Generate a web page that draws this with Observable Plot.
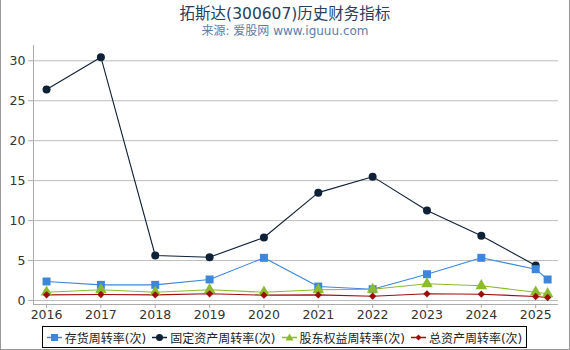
<!DOCTYPE html>
<html><head><meta charset="utf-8">
<script src="https://cdn.jsdelivr.net/npm/d3@7"></script>
<script src="https://cdn.jsdelivr.net/npm/@observablehq/plot@0.6"></script>
<style>
body{margin:0;background:#fff;font-family:"DejaVu Sans","Noto Sans CJK SC",sans-serif;}
#wrap{position:relative;width:570px;height:350px;overflow:hidden;}
#border{position:absolute;left:0;top:0;width:570px;height:350px;box-sizing:border-box;border-left:1px solid #999;border-right:1px solid #999;border-bottom:1px solid #999;pointer-events:none;}
#title{position:absolute;top:1px;left:0;width:570px;text-align:center;font-size:15.5px;color:#26405f;}
#sub{position:absolute;top:21px;left:0;width:570px;text-align:center;font-size:12px;color:#5e7ca6;}
#chart{position:absolute;top:42px;left:0;}
#legend{position:absolute;top:326px;left:42px;width:485px;height:22px;box-sizing:border-box;border:1px solid #000;display:flex;align-items:center;justify-content:center;font-size:12px;color:#222;white-space:nowrap;}
#legend .it{display:flex;align-items:center;margin-right:6px;}
#legend .it:last-child{margin-right:0;}
#legend svg{margin-right:3px;}
</style></head>
<body><div id="wrap"><div id="title"></div><div id="sub"></div><div id="chart"></div><div id="legend"></div><div id="border"></div></div>
<script>
const titleText = "拓斯达(300607)历史财务指标";
const subText = "来源: 爱股网 www.iguuu.com";
const periods = [2016, 2017, 2018, 2019, 2020, 2021, 2022, 2023, 2024, 2025, 2025.22];
const tickYears = [2016, 2017, 2018, 2019, 2020, 2021, 2022, 2023, 2024, 2025];
const yTicks = [0, 5, 10, 15, 20, 25, 30];
const seriesNames = ["存货周转率(次)", "固定资产周转率(次)", "股东权益周转率(次)", "总资产周转率(次)"];
const inventory = [2.38, 1.96, 1.96, 2.63, 5.34, 1.75, 1.41, 3.29, 5.34, 3.92, 2.63];
const fixedAsset = [26.4, 30.45, 5.63, 5.42, 7.88, 13.5, 15.5, 11.26, 8.1, 4.38, null];
const equity = [1.04, 1.34, 1.04, 1.34, 1.04, 1.34, 1.4, 2.09, 1.84, 1.04, 0.84];
const totalAsset = [0.71, 0.75, 0.71, 0.84, 0.67, 0.7, 0.54, 0.84, 0.79, 0.5, 0.38];
const colors = ["#3c87dc", "#0f2136", "#8cbc2c", "#a00c0c"];
const symbols = ["square", "circle", "triangle", "diamond2"];
const radii = [4.5, 4, 4.3, 3.3];

document.getElementById("title").textContent = titleText;
document.getElementById("sub").textContent = subText;

const allSeries = [inventory, fixedAsset, equity, totalAsset];
const rows = [];
allSeries.forEach((vals, si) => {
  vals.forEach((v, i) => { if (v != null) rows.push({x: periods[i], y: v, s: si}); });
});
const xDom = [2015.76, 2025.42];

const marks = [
  Plot.ruleY(yTicks, {y: d => d, x1: xDom[0], x2: xDom[1], stroke: "#bdbdbd", strokeWidth: 1}),
  Plot.ruleX([xDom[0]], {x: d => d, y1: -0.5, y2: 31.9, stroke: "#aaa"}),
  Plot.ruleY([-0.5], {y: d => d, x1: xDom[0], x2: xDom[1], stroke: "#aaa"}),
  Plot.ruleX(tickYears, {x: d => d, y1: -0.5, y2: -1.0, stroke: "#aaa"}),
  Plot.text(tickYears, {x: d => d, y: -0.5, dy: 11, text: d => String(d), fontSize: 12.5, fill: "#333", fontFamily: "DejaVu Sans"}),
  Plot.axisY({ticks: yTicks, tickSize: 5, tickPadding: 3, fontSize: 12.5, color: "#333", stroke: "#aaa", label: null, fontFamily: "DejaVu Sans"})
];
[1, 0, 2, 3].forEach(si => {
  const data = rows.filter(r => r.s === si);
  marks.push(Plot.line(data, {x: "x", y: "y", stroke: colors[si], strokeWidth: 1.1}));
});
[1, 0, 2, 3].forEach(si => {
  const data = rows.filter(r => r.s === si);
  marks.push(Plot.dot(data, {x: "x", y: "y", fill: colors[si], stroke: "none", symbol: () => symbols[si], r: radii[si]}));
});

const chart = Plot.plot({
  width: 570, height: 282,
  marginLeft: 33, marginRight: 12, marginTop: 18.3, marginBottom: 24,
  x: {domain: xDom, axis: null},
  y: {domain: [0, 30], axis: null},
  symbol: {type: "identity"},
  style: {background: "transparent", fontFamily: "DejaVu Sans"},
  marks
});
document.getElementById("chart").appendChild(chart);

const leg = document.getElementById("legend");
const symPaths = {
  square: '<rect x="4" y="2" width="7" height="7"/>',
  circle: '<circle cx="7.5" cy="5.5" r="3.5"/>',
  triangle: '<path d="M7.5 1.5 L11.5 8.5 L3.5 8.5 Z"/>',
  diamond2: '<path d="M7.5 2.5 L10.5 5.5 L7.5 8.5 L4.5 5.5 Z"/>'
};
seriesNames.forEach((n, i) => {
  const it = document.createElement("div");
  it.className = "it";
  it.innerHTML = `<svg width="15" height="11"><line x1="0" y1="5.5" x2="15" y2="5.5" stroke="${colors[i]}" stroke-width="1.5"/><g fill="${colors[i]}">${symPaths[symbols[i]]}</g></svg><span>${n}</span>`;
  leg.appendChild(it);
});
</script></body></html>
